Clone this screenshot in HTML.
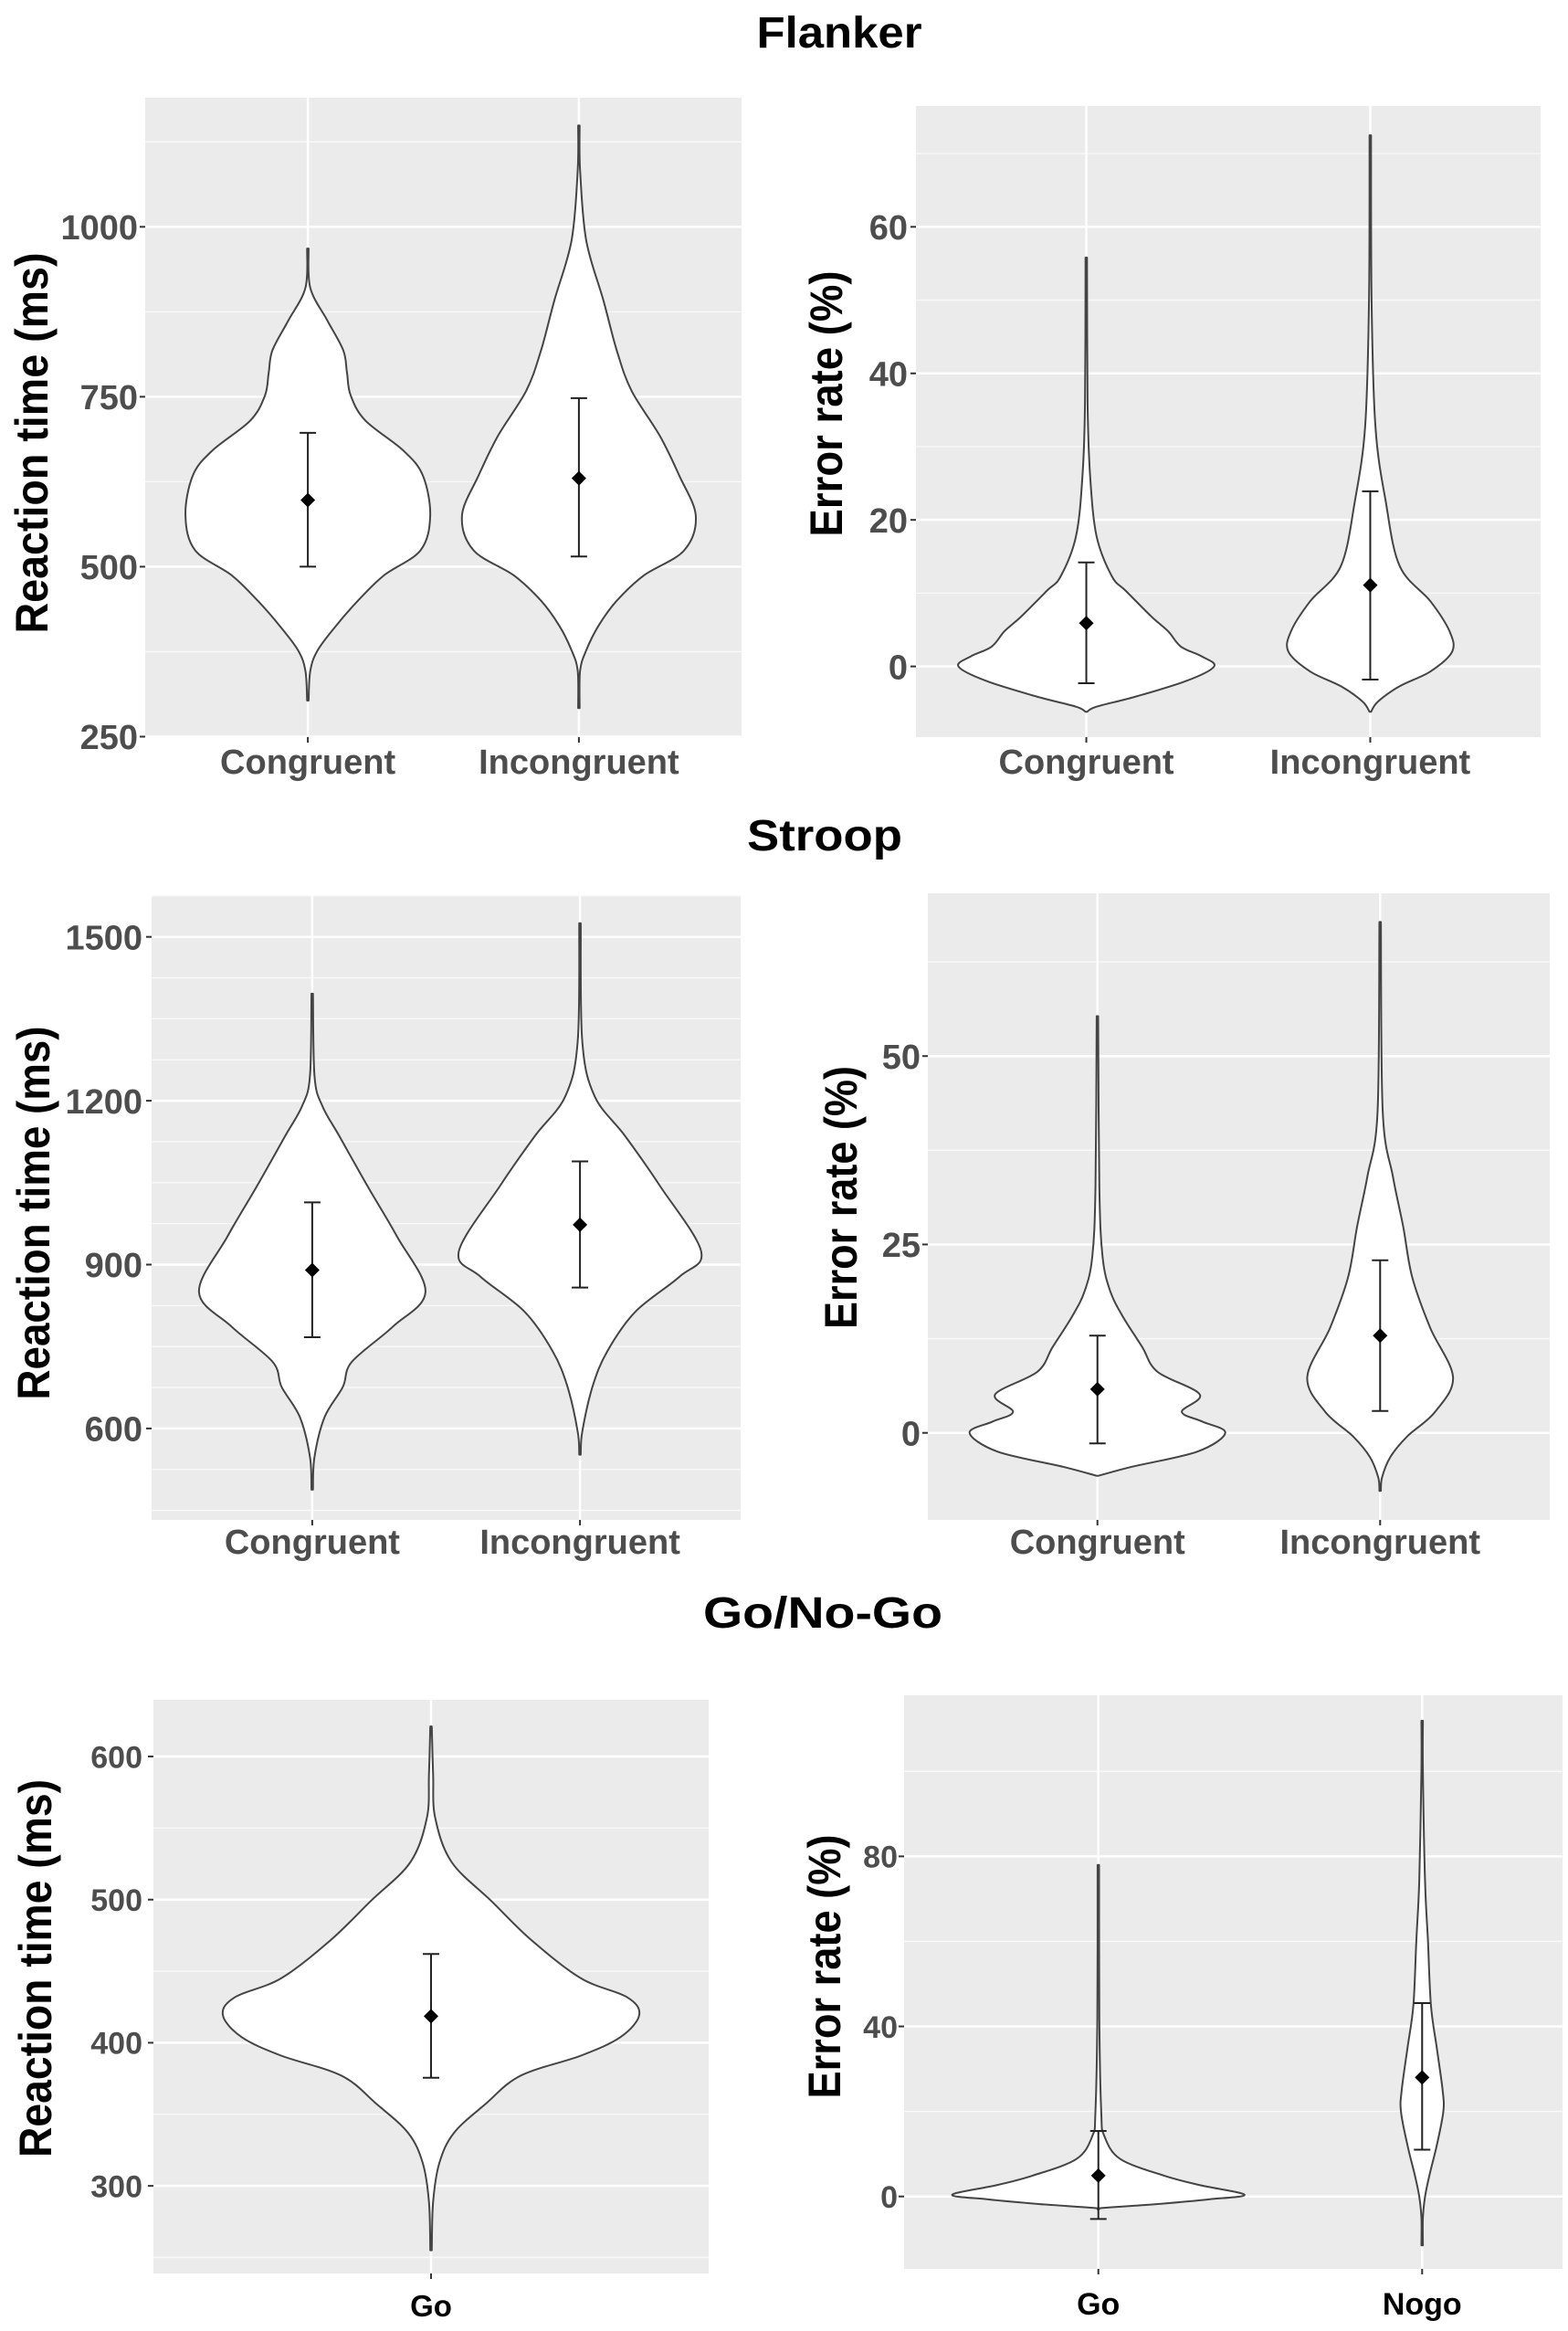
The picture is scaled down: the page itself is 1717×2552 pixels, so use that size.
<!DOCTYPE html>
<html><head><meta charset="utf-8"><title>Violin plots</title>
<style>
html,body{margin:0;padding:0;background:#fff;}
svg{display:block;}
text{font-family:"Liberation Sans",sans-serif;font-weight:bold;}
</style></head>
<body>
<svg id="fig" width="1717" height="2552" viewBox="0 0 1717 2552" xmlns="http://www.w3.org/2000/svg">
<rect x="0" y="0" width="1717" height="2552" fill="#fff"/>
<text x="919" y="52" text-anchor="middle" font-size="48" textLength="181" lengthAdjust="spacingAndGlyphs" fill="#000">Flanker</text>
<text x="903" y="931" text-anchor="middle" font-size="48" textLength="170" lengthAdjust="spacingAndGlyphs" fill="#000">Stroop</text>
<text x="901" y="1782" text-anchor="middle" font-size="48" textLength="262" lengthAdjust="spacingAndGlyphs" fill="#000">Go/No-Go</text>
</svg>
<script>
// ---------- DATA ----------
// Panel A: Flanker RT
const flankerRtCategories = ["Congruent", "Incongruent"];
const flankerRtTicks = [250, 500, 750, 1000];
const flankerRtCongValues = [968, 910, 862, 818, 785, 752, 715, 671, 634, 575, 524, 487, 450, 413, 377, 347, 303];
const flankerRtCongDensity = [0, 0.02, 0.16, 0.29, 0.32, 0.35, 0.47, 0.78, 0.94, 1, 0.92, 0.62, 0.41, 0.23, 0.08, 0.02, 0];
const flankerRtIncValues = [1149, 1083, 980, 892, 818, 759, 693, 634, 575, 524, 487, 450, 413, 377, 347, 292];
const flankerRtIncDensity = [0, 0.01, 0.06, 0.2, 0.31, 0.43, 0.66, 0.82, 0.955, 0.86, 0.53, 0.31, 0.16, 0.06, 0.01, 0];
const flankerRtMeans = [598, 630];
const flankerRtLower = [500, 515];
const flankerRtUpper = [697, 748];

// Panel B: Flanker error
const flankerErrCategories = ["Congruent", "Incongruent"];
const flankerErrTicks = [0, 20, 40, 60];
const flankerErrCongValues = [55.8, 36, 26, 17.8, 12.3, 10.3, 6.8, 4.8, 2.7, 1.4, 0, -2, -4.1, -5.5, -6.2];
const flankerErrCongDensity = [0, 0.01, 0.03, 0.08, 0.2, 0.31, 0.51, 0.64, 0.74, 0.9, 1, 0.78, 0.39, 0.08, 0];
const flankerErrIncValues = [72.5, 50, 32.8, 22.6, 13.7, 8.9, 4.8, 2, -0.7, -2.7, -4.8, -6.2];
const flankerErrIncDensity = [0, 0.01, 0.04, 0.12, 0.23, 0.47, 0.62, 0.64, 0.47, 0.23, 0.06, 0];
const flankerErrMeans = [5.9, 11.1];
const flankerErrLower = [-2.3, -1.8];
const flankerErrUpper = [14.2, 23.9];

// Panel C: Stroop RT
const stroopRtCategories = ["Congruent", "Incongruent"];
const stroopRtTicks = [600, 900, 1200, 1500];
const stroopRtCongValues = [1396, 1245, 1190, 1135, 1043, 951, 850, 786, 722, 676, 621, 548, 488];
const stroopRtCongDensity = [0, 0.02, 0.09, 0.24, 0.49, 0.75, 1, 0.71, 0.35, 0.27, 0.11, 0.02, 0];
const stroopRtIncValues = [1525, 1309, 1208, 1135, 1043, 924, 878, 814, 741, 676, 594, 552];
const stroopRtIncDensity = [0, 0.02, 0.13, 0.4, 0.71, 1.07, 0.88, 0.49, 0.24, 0.11, 0.02, 0];
const stroopRtMeans = [890, 973];
const stroopRtLower = [767, 858];
const stroopRtUpper = [1014, 1089];

// Panel D: Stroop error
const stroopErrCategories = ["Congruent", "Incongruent"];
const stroopErrTicks = [0, 25, 50];
const stroopErrCongValues = [55.3, 32.7, 23.4, 18.8, 15.4, 11.4, 8.1, 5.1, 2.8, 1.5, 0, -2.5, -4.5, -5.7];
const stroopErrCongDensity = [0, 0.015, 0.04, 0.1, 0.2, 0.35, 0.47, 0.8, 0.66, 0.82, 1, 0.78, 0.27, 0];
const stroopErrIncValues = [67.8, 42.7, 34, 27.4, 20.7, 14, 7.4, 2.8, -0.5, -3.2, -5.9, -7.7];
const stroopErrIncDensity = [0, 0.02, 0.1, 0.18, 0.25, 0.39, 0.57, 0.43, 0.21, 0.08, 0.015, 0];
const stroopErrMeans = [5.8, 12.9];
const stroopErrLower = [-1.4, 2.9];
const stroopErrUpper = [12.9, 22.9];

// Panel E: Go/No-Go RT
const goRtCategories = ["Go"];
const goRtTicks = [300, 400, 500, 600];
const goRtValues = [621, 587, 557, 526, 499, 472, 445, 432, 419.5, 404, 391, 377, 357, 337, 316, 289, 255];
const goRtDensity = [0, 0.01, 0.02, 0.1, 0.29, 0.48, 0.72, 0.94, 1, 0.91, 0.72, 0.43, 0.26, 0.11, 0.04, 0.01, 0];
const goRtMeans = [418.5];
const goRtLower = [375.5];
const goRtUpper = [462];

// Panel F: Go/No-Go error
const goErrCategories = ["Go", "Nogo"];
const goErrTicks = [0, 40, 80];
const goErrGoValues = [78, 41.8, 19.8, 14.3, 8.8, 4.9, 2.7, 0.4, -0.7, -1.8, -2.7, -3];
const goErrGoDensity = [0, 0.007, 0.02, 0.04, 0.15, 0.45, 0.69, 1, 0.75, 0.4, 0.03, 0];
const goErrNogoValues = [111.9, 100, 74, 60, 45, 35, 25, 20, 12, 5, 0, -5, -11.5];
const goErrNogoDensity = [0, 0.005, 0.02, 0.04, 0.06, 0.1, 0.14, 0.145, 0.1, 0.05, 0.02, 0.005, 0];
const goErrMeans = [4.9, 28];
const goErrLower = [-5.3, 11];
const goErrUpper = [15.4, 45.5];

// ---------- DRAWING ----------
const NS = "http://www.w3.org/2000/svg";
const svg = document.getElementById("fig");
function mk(tag, parent) { const e = document.createElementNS(NS, tag); parent.appendChild(e); return e; }

function smoothSide(pts) {
  // Catmull-Rom through points, returns path segments (no initial M)
  let d = "";
  for (let i = 0; i < pts.length - 1; i++) {
    const p0 = pts[Math.max(i - 1, 0)], p1 = pts[i], p2 = pts[i + 1], p3 = pts[Math.min(i + 2, pts.length - 1)];
    const c1x = p1[0] + (p2[0] - p0[0]) / 6, c1y = p1[1] + (p2[1] - p0[1]) / 6;
    const c2x = p2[0] - (p3[0] - p1[0]) / 6, c2y = p2[1] - (p3[1] - p1[1]) / 6;
    d += `C${c1x.toFixed(1)},${c1y.toFixed(1)} ${c2x.toFixed(1)},${c2y.toFixed(1)} ${p2[0].toFixed(1)},${p2[1].toFixed(1)}`;
  }
  return d;
}

function drawPanel(cfg) {
  const g = mk("g", svg);
  
  
  const y = v => cfg.y + (cfg.hi - v) / (cfg.hi - cfg.lo) * cfg.h;
  const n = cfg.cats.length;
  const x = i => n === 1 ? cfg.x + cfg.vw / 2 : cfg.x + cfg.vw * (0.6 + i) / (n - 1 + 1.2);
  const bg = mk("rect", g);
  bg.setAttribute("x", cfg.x); bg.setAttribute("y", cfg.y);
  bg.setAttribute("width", cfg.w); bg.setAttribute("height", cfg.h);
  bg.setAttribute("fill", "#ebebeb");
  
  
  for (let v = Math.ceil(cfg.lo / cfg.gridStep) * cfg.gridStep; v <= cfg.hi; v += cfg.gridStep) {
    const l = mk("line", g);
    l.setAttribute("x1", cfg.x); l.setAttribute("x2", cfg.x + cfg.w);
    l.setAttribute("y1", y(v)); l.setAttribute("y2", y(v));
    l.setAttribute("stroke", "#fafafa"); l.setAttribute("stroke-width", "1.3");
    
    
  }
  cfg.ticks.forEach(t => {
    const l = mk("line", g);
    l.setAttribute("x1", cfg.x); l.setAttribute("x2", cfg.x + cfg.w);
    l.setAttribute("y1", y(t)); l.setAttribute("y2", y(t));
    l.setAttribute("stroke", "#fff"); l.setAttribute("stroke-width", "2.5");
    
    
    const tk = mk("line", g);
    tk.setAttribute("x1", cfg.x - 6); tk.setAttribute("x2", cfg.x);
    tk.setAttribute("y1", y(t)); tk.setAttribute("y2", y(t));
    tk.setAttribute("stroke", "#333"); tk.setAttribute("stroke-width", "2");
    
    
    const tx = mk("text", g);
    tx.setAttribute("x", cfg.tickRight); tx.setAttribute("y", y(t) + cfg.tickFont * 0.36);
    tx.setAttribute("text-anchor", "end"); tx.setAttribute("font-size", cfg.tickFont);
    tx.setAttribute("fill", "#4d4d4d");
    
    
    tx.textContent = t;
  });
  cfg.cats.forEach((c, i) => {
    const l = mk("line", g);
    l.setAttribute("x1", x(i)); l.setAttribute("x2", x(i));
    l.setAttribute("y1", cfg.y); l.setAttribute("y2", cfg.y + cfg.h);
    l.setAttribute("stroke", "#fff"); l.setAttribute("stroke-width", "2.5");
    
    
    const tk = mk("line", g);
    tk.setAttribute("x1", x(i)); tk.setAttribute("x2", x(i));
    tk.setAttribute("y1", cfg.y + cfg.h); tk.setAttribute("y2", cfg.y + cfg.h + 6);
    tk.setAttribute("stroke", "#333"); tk.setAttribute("stroke-width", "2");
    
    
    const tx = mk("text", g);
    tx.setAttribute("x", x(i)); tx.setAttribute("y", cfg.catY);
    tx.setAttribute("text-anchor", "middle"); tx.setAttribute("font-size", cfg.catFont);
    tx.setAttribute("fill", cfg.catColor);
    
    
    tx.textContent = c;
    // violin
    const vals = cfg.vals[i], dens = cfg.dens[i];
    const right = [], left = [];
    for (let k = 0; k < vals.length; k++) {
      const hw = Math.max(dens[k] * cfg.wscale, 0.8);
      right.push([x(i) + hw, y(vals[k])]);
      left.unshift([x(i) - hw, y(vals[k])]);
    }
    const dPath = `M${right[0][0].toFixed(1)},${right[0][1].toFixed(1)}` + smoothSide(right) +
      `L${left[0][0].toFixed(1)},${left[0][1].toFixed(1)}` + smoothSide(left) + "Z";
    const p = mk("path", g);
    p.setAttribute("d", dPath);
    p.setAttribute("fill", "#fff"); p.setAttribute("stroke", "#444");
    p.setAttribute("stroke-width", "2"); p.setAttribute("stroke-linejoin", "round");
    
    
    const eb = mk("path", g);
    const yl = y(cfg.lower[i]), yu = y(cfg.upper[i]), cw = 9;
    eb.setAttribute("d", `M${x(i)},${yl}V${yu}M${x(i)-cw},${yl}H${x(i)+cw}M${x(i)-cw},${yu}H${x(i)+cw}`);
    eb.setAttribute("stroke", "#222"); eb.setAttribute("stroke-width", "2"); eb.setAttribute("fill", "none");
    
    
    const d = mk("polygon", g);
    const my = y(cfg.means[i]), r = 8;
    d.setAttribute("points", `${x(i)},${my-r} ${x(i)+r},${my} ${x(i)},${my+r} ${x(i)-r},${my}`);
    d.setAttribute("fill", "#000");
    
    
  });
  const at = mk("text", g);
  at.setAttribute("transform", `translate(${cfg.titleX},${cfg.titleY}) rotate(-90)`);
  at.setAttribute("text-anchor", "middle");
  at.setAttribute("font-size", cfg.titleFont);
  at.setAttribute("textLength", cfg.titleLen);
  at.setAttribute("lengthAdjust", "spacingAndGlyphs");
  at.setAttribute("fill", "#000");
  
  
  at.textContent = cfg.title;
}

drawPanel({name:"flanker-rt-panel", x:159, y:107, w:653, vw:653, h:700, lo:249.3, hi:1189.9, gridStep:125,
  ticks:flankerRtTicks, cats:flankerRtCategories, vals:[flankerRtCongValues, flankerRtIncValues],
  dens:[flankerRtCongDensity, flankerRtIncDensity], means:flankerRtMeans, lower:flankerRtLower, upper:flankerRtUpper,
  wscale:134, tickRight:151, tickFont:38, catY:847, catFont:38, catColor:"#4d4d4d",
  title:"Reaction time (ms)", titleX:52, titleY:485, titleFont:50, titleLen:417});
drawPanel({name:"flanker-error-panel", x:1003, y:116, w:684, vw:684, h:691, lo:-9.65, hi:76.5, gridStep:10,
  ticks:flankerErrTicks, cats:flankerErrCategories, vals:[flankerErrCongValues, flankerErrIncValues],
  dens:[flankerErrCongDensity, flankerErrIncDensity], means:flankerErrMeans, lower:flankerErrLower, upper:flankerErrUpper,
  wscale:140, tickRight:994, tickFont:38, catY:847, catFont:38, catColor:"#4d4d4d",
  title:"Error rate (%)", titleX:922, titleY:442, titleFont:50, titleLen:291});
drawPanel({name:"stroop-rt-panel", x:166, y:980, w:645, vw:645, h:684, lo:432.6, hi:1576.4, gridStep:75,
  ticks:stroopRtTicks, cats:stroopRtCategories, vals:[stroopRtCongValues, stroopRtIncValues],
  dens:[stroopRtCongDensity, stroopRtIncDensity], means:stroopRtMeans, lower:stroopRtLower, upper:stroopRtUpper,
  wscale:124, tickRight:156, tickFont:38, catY:1701, catFont:38, catColor:"#4d4d4d",
  title:"Reaction time (ms)", titleX:54, titleY:1328, titleFont:50, titleLen:409});
drawPanel({name:"stroop-error-panel", x:1016, y:978, w:681, vw:681, h:686, lo:-11.55, hi:71.6, gridStep:12.5,
  ticks:stroopErrTicks, cats:stroopErrCategories, vals:[stroopErrCongValues, stroopErrIncValues],
  dens:[stroopErrCongDensity, stroopErrIncDensity], means:stroopErrMeans, lower:stroopErrLower, upper:stroopErrUpper,
  wscale:140, tickRight:1008, tickFont:38, catY:1701, catFont:38, catColor:"#4d4d4d",
  title:"Error rate (%)", titleX:938, titleY:1311, titleFont:50, titleLen:288});
drawPanel({name:"gonogo-rt-panel", x:168, y:1861, w:608, vw:608, h:628, lo:238.8, hi:639.6, gridStep:50,
  ticks:goRtTicks, cats:goRtCategories, vals:[goRtValues], dens:[goRtDensity],
  means:goRtMeans, lower:goRtLower, upper:goRtUpper,
  wscale:228, tickRight:156, tickFont:34, catY:2536, catFont:33, catColor:"#000",
  title:"Reaction time (ms)", titleX:56, titleY:2155, titleFont:50, titleLen:414});
drawPanel({name:"gonogo-error-panel", x:990, y:1856, w:721, vw:780, h:628, lo:-17.04, hi:117.9, gridStep:20,
  ticks:goErrTicks, cats:goErrCategories, vals:[goErrGoValues, goErrNogoValues], dens:[goErrGoDensity, goErrNogoDensity],
  means:goErrMeans, lower:goErrLower, upper:goErrUpper,
  wscale:160, tickRight:983, tickFont:34, catY:2534, catFont:34, catColor:"#000",
  title:"Error rate (%)", titleX:920, titleY:2153, titleFont:50, titleLen:289});
</script>
</body></html>
